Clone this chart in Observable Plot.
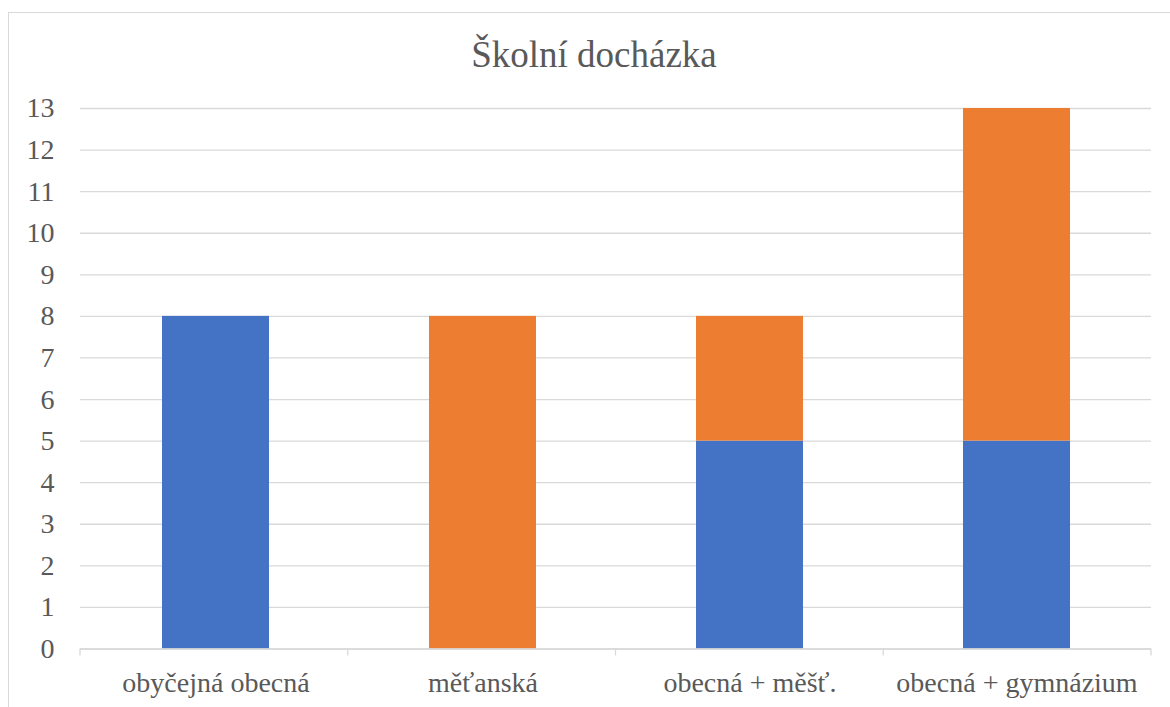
<!DOCTYPE html>
<html>
<head>
<meta charset="utf-8">
<script src="https://cdn.jsdelivr.net/npm/d3@7"></script>
<script src="https://cdn.jsdelivr.net/npm/@observablehq/plot@0.6"></script>
<style>
  html, body { margin: 0; padding: 0; background: #fff; }
  #wrap { position: relative; width: 1170px; height: 707px; overflow: hidden; font-family: "Liberation Serif", "Times New Roman", Tinos, "DejaVu Serif", "Noto Serif", serif; }
  #frame { position: absolute; left: 8px; top: 12px; width: 1200px; height: 800px; border: 1px solid #d9d9d9; box-sizing: border-box; }
  #title { position: absolute; left: 8px; width: 1172px; top: 36px; text-align: center; font-size: 37px; line-height: 37px; color: #595959; }
  #chart { position: absolute; left: 0; top: 0; }
  #chart svg text { font-family: "Liberation Serif", "Times New Roman", Tinos, "DejaVu Serif", "Noto Serif", serif; }
</style>
</head>
<body>
<div id="wrap">
  <div id="frame"></div>
  <div id="title">Školní docházka</div>
  <div id="chart"></div>
</div>
<script>
const categories = ["obyčejná obecná", "měťanská", "obecná + měšť.", "obecná + gymnázium"];
const seriesNames = ["obecná", "měšťanská / gymnázium"];
const blueValues = [8, 0, 5, 5];
const orangeValues = [0, 8, 3, 8];
const yTicks = [0, 1, 2, 3, 4, 5, 6, 7, 8, 9, 10, 11, 12, 13];
const seriesColors = ["#4472C4", "#ED7D31"];

const data = [];
categories.forEach((c, i) => {
  data.push({category: c, series: seriesNames[0], value: blueValues[i]});
  data.push({category: c, series: seriesNames[1], value: orangeValues[i]});
});

const boundaryTicks = (index, scales, values, dimensions) => {
  const {width, height, marginLeft, marginRight, marginBottom} = dimensions;
  const n = categories.length;
  const step = (width - marginLeft - marginRight) / n;
  const g = d3.create("svg:g");
  const y0 = height - marginBottom;
  for (let i = 0; i <= n; i++) {
    const x = marginLeft + i * step;
    g.append("line").attr("x1", x).attr("x2", x).attr("y1", y0).attr("y2", y0 + 7)
      .attr("stroke", "#d9d9d9").attr("stroke-width", 1.3);
  }
  return g.node();
};

const chart = Plot.plot({
  width: 1170,
  height: 707,
  marginLeft: 80,
  marginRight: 19,
  marginTop: 108,
  marginBottom: 58.5,
  style: {fontFamily: '"Liberation Serif", "Times New Roman", Tinos, "DejaVu Serif", serif', background: "transparent", color: "#595959"},
  x: {domain: categories, paddingInner: 0.6, paddingOuter: 0.3, label: null},
  y: {domain: [0, 13], label: null},
  color: {domain: seriesNames, range: seriesColors},
  marks: [
    Plot.gridY(yTicks, {stroke: "#d9d9d9", strokeOpacity: 1, strokeWidth: 1.3}),
    Plot.barY(data, Plot.stackY({x: "category", y: "value", fill: "series", order: seriesNames})),
    Plot.ruleY([0], {stroke: "#d9d9d9", strokeWidth: 1.3}),
    boundaryTicks,
    Plot.axisY(yTicks, {tickSize: 0, tickPadding: 26, fontSize: 28, fill: "#595959", label: null}),
    Plot.axisX({tickSize: 0, tickPadding: 23, fontSize: 28, fill: "#595959", label: null})
  ]
});
document.getElementById("chart").appendChild(chart);
</script>
</body>
</html>
